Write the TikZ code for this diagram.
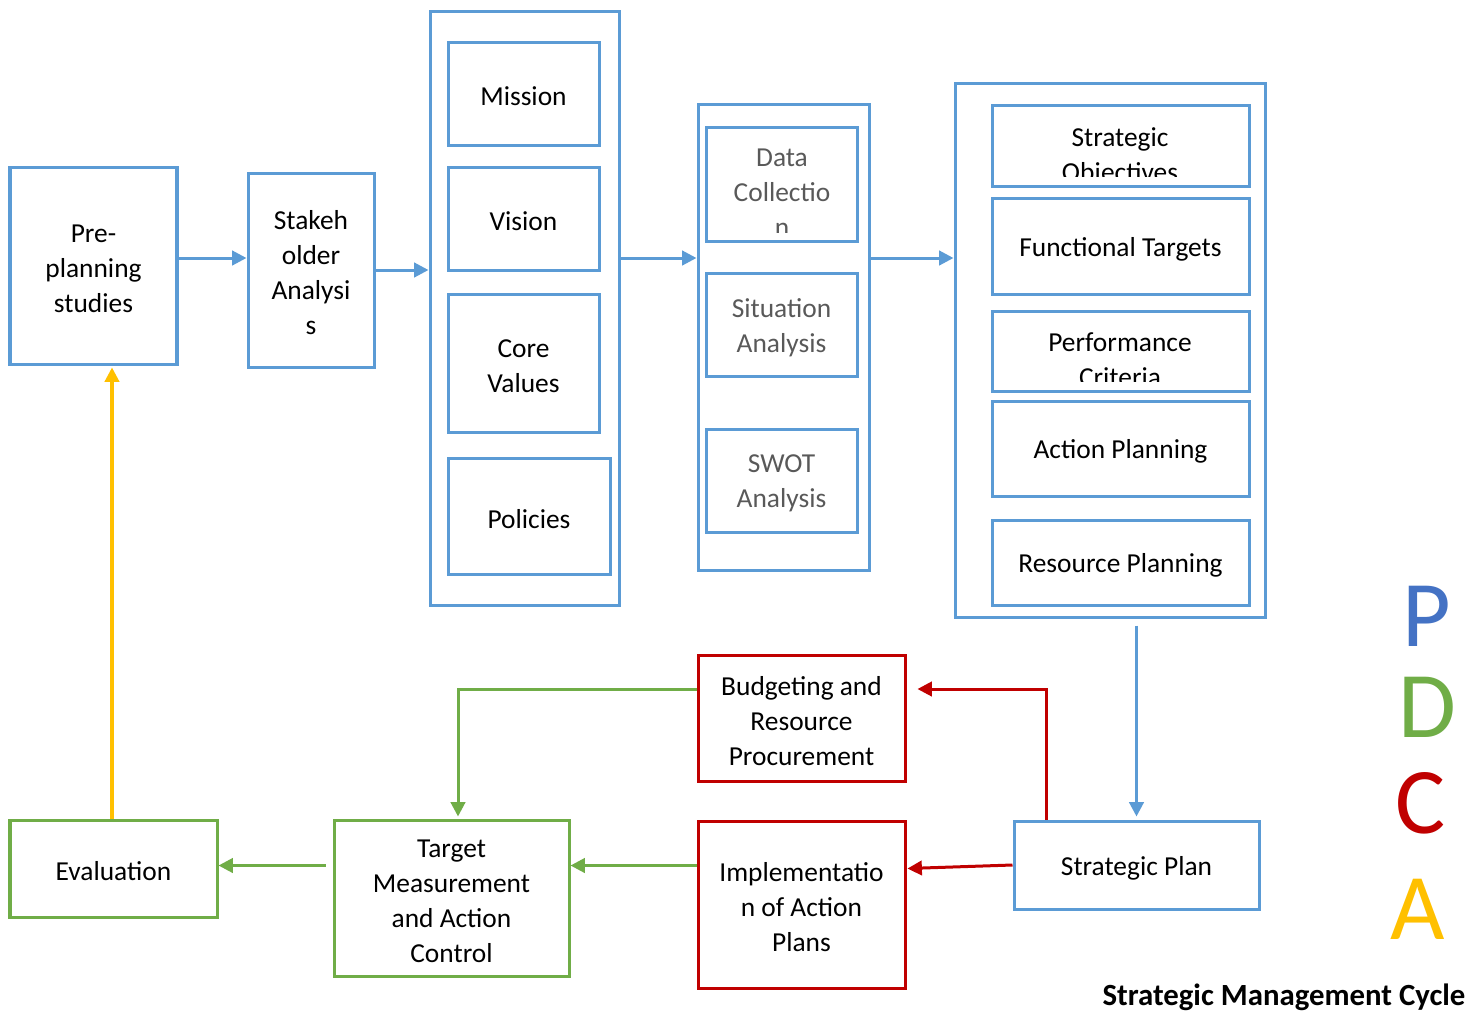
\documentclass[tikz,border=0pt]{standalone}
\usepackage{fontspec}
\setmainfont{Carlito}
\usetikzlibrary{arrows.meta,calc}

\definecolor{sblue}{HTML}{5B9BD5}
\definecolor{sgreen}{HTML}{70AD47}
\definecolor{sred}{HTML}{C00000}
\definecolor{syellow}{HTML}{FFC000}
\definecolor{pblue}{HTML}{4472C4}
\definecolor{sgray}{HTML}{595959}

% box from its corners (x1,y1)-(x2,y2): style, name, x1, y1, x2, y2, text
% the text sits a little below the geometric centre of the box
\newcommand\pxnode[7]{%
  \node[#1, minimum width={(#5-#3)*0.383pt}, minimum height={(#6-#4)*0.383pt}]
    (#2) at ({(#3+#5)/2},{(#4+#6)/2}) {};
  \node[#1, draw=none] (#2-text) at ($(#2)+(0,3)$) {#7};}

\tikzset{
  every node/.style={font=\fontsize{10.5pt}{13.4pt}\selectfont, align=center, inner sep=0pt},
  frame/.style={draw, rectangle, line width=1.15pt},
  bluebox/.style={frame, draw=sblue},
  redbox/.style={frame, draw=sred},
  greenbox/.style={frame, draw=sgreen},
  conn/.style={line width=1.15pt, -{Triangle[length=5.5pt,width=5.5pt]}},
  letter/.style={font=\fontsize{36pt}{40pt}\selectfont, anchor=base},
}

\begin{document}
\begin{tikzpicture}[x=0.383pt, y=-0.383pt]
\useasboundingbox (0,0) rectangle (1474,1014);

% planning chain
\pxnode{bluebox}{pre}{10}{167}{177}{364}{Pre-\\planning\\studies}
\pxnode{bluebox}{stake}{248}{173}{374}{367}{Stakeh\\older\\Analysi\\s}

\pxnode{bluebox}{c1}{430}{11}{619}{605}{}
\pxnode{bluebox}{mission}{448}{42}{599}{145}{Mission}
\pxnode{bluebox}{vision}{448}{167}{599}{270}{Vision}
\pxnode{bluebox}{core}{448}{294}{599}{432}{Core\\Values}
\pxnode{bluebox}{policies}{448}{458}{610}{574}{Policies}

\pxnode{bluebox}{c2}{698}{104}{869}{570}{}
\pxnode{bluebox}{data}{706}{127}{857}{241}{}
\pxnode{bluebox,text=sgray}{situation}{706}{273}{857}{376}{Situation\\Analysis}
\pxnode{bluebox,text=sgray}{swot}{706}{429}{857}{532}{SWOT\\Analysis}

\pxnode{bluebox}{c3}{955}{83}{1265}{617}{}
\pxnode{bluebox}{objectives}{992}{105}{1249}{186}{}
\pxnode{bluebox}{functional}{992}{198}{1249}{294}{Functional Targets}
\pxnode{bluebox}{performance}{992}{311}{1249}{391}{}
\pxnode{bluebox}{action}{992}{401}{1249}{496}{Action Planning}
\pxnode{bluebox}{resource}{992}{520}{1249}{605}{Resource Planning}

% texts that run past the bottom of their boxes
\begin{scope}
  \clip (706,127) rectangle (857,232);
  \node[text=sgray] (datatext) at (782,193) {Data\\Collectio\\n};
\end{scope}
\begin{scope}
  \clip (992,105) rectangle (1249,176);
  \node (objtext) at (1120,156.5) {Strategic\\Objectives};
\end{scope}
\begin{scope}
  \clip (992,311) rectangle (1249,381);
  \node (perftext) at (1120,360) {Performance\\Criteria};
\end{scope}

% execution and control
\pxnode{bluebox}{plan}{1014}{821}{1259}{909}{Strategic Plan}
\pxnode{redbox}{budget}{698}{655}{905}{781}{Budgeting and\\Resource\\Procurement}
\pxnode{redbox}{impl}{698}{821}{905}{988}{Implementatio\\n of Action\\Plans}
\pxnode{greenbox}{target}{334}{820}{569}{976}{Target\\Measurement\\and Action\\Control}
\pxnode{greenbox}{eval}{10}{820}{217}{917}{Evaluation}

% blue flow
\coordinate (a1) at ($(pre.east)+(0,-7.5)$);
\draw[conn, sblue] (a1) -- (a1 -| stake.west);
\draw[conn, sblue] (stake.east) -- (stake.east -| c1.west);
\draw[conn, sblue] (c1.east |- a1) -- (c2.west |- a1);
\draw[conn, sblue] (c2.east |- a1) -- (c3.west |- a1);
\coordinate (a2) at (c3.south -| plan.north);
\draw[conn, sblue] ($(a2)+(0,7)$) -- ($(plan.north)+(0,-3)$);

% red flow
\coordinate (bt) at ($(budget.east)+(11,-29)$);
\draw[conn, sred] ($(plan.north west)+(34,0)$) |- (bt);
\draw[conn, sred] (plan.west) -- ($(impl.north east)+(1,49)$);

% green flow
\coordinate (g1) at ($(impl.north west)+(0,46)$);
\draw[conn, sgreen] (g1) -- (g1 -| target.east);
\coordinate (g2) at ($(budget.west)+(0,-29)$);
\draw[conn, sgreen] (g2) -| ($(target.north)+(6.5,-2)$);
\coordinate (g3) at (g1 -| target.west);
\draw[conn, sgreen] ($(g3)+(-7,0)$) -- (g1 -| eval.east);

% yellow feedback
\coordinate (y1) at (eval.north |- pre.south);
\draw[conn, syellow] ($(eval.north)+(-1.5,0)$) -- ($(y1)+(-1.5,2)$);

% PDCA letters and caption
\node[letter, text=pblue] (lp) at (1427,646) {P};
\node[letter, text=sgreen] (ld) at (1427,737) {D};
\node[letter, text=sred] (lc) at (1421,833) {C};
\node[letter, text=syellow] (la) at (1418,939) {A};
\node[font=\fontsize{11.8pt}{14pt}\selectfont\bfseries, anchor=base east] (title) at (1466,1005) {Strategic Management Cycle};
\end{tikzpicture}
\end{document}
